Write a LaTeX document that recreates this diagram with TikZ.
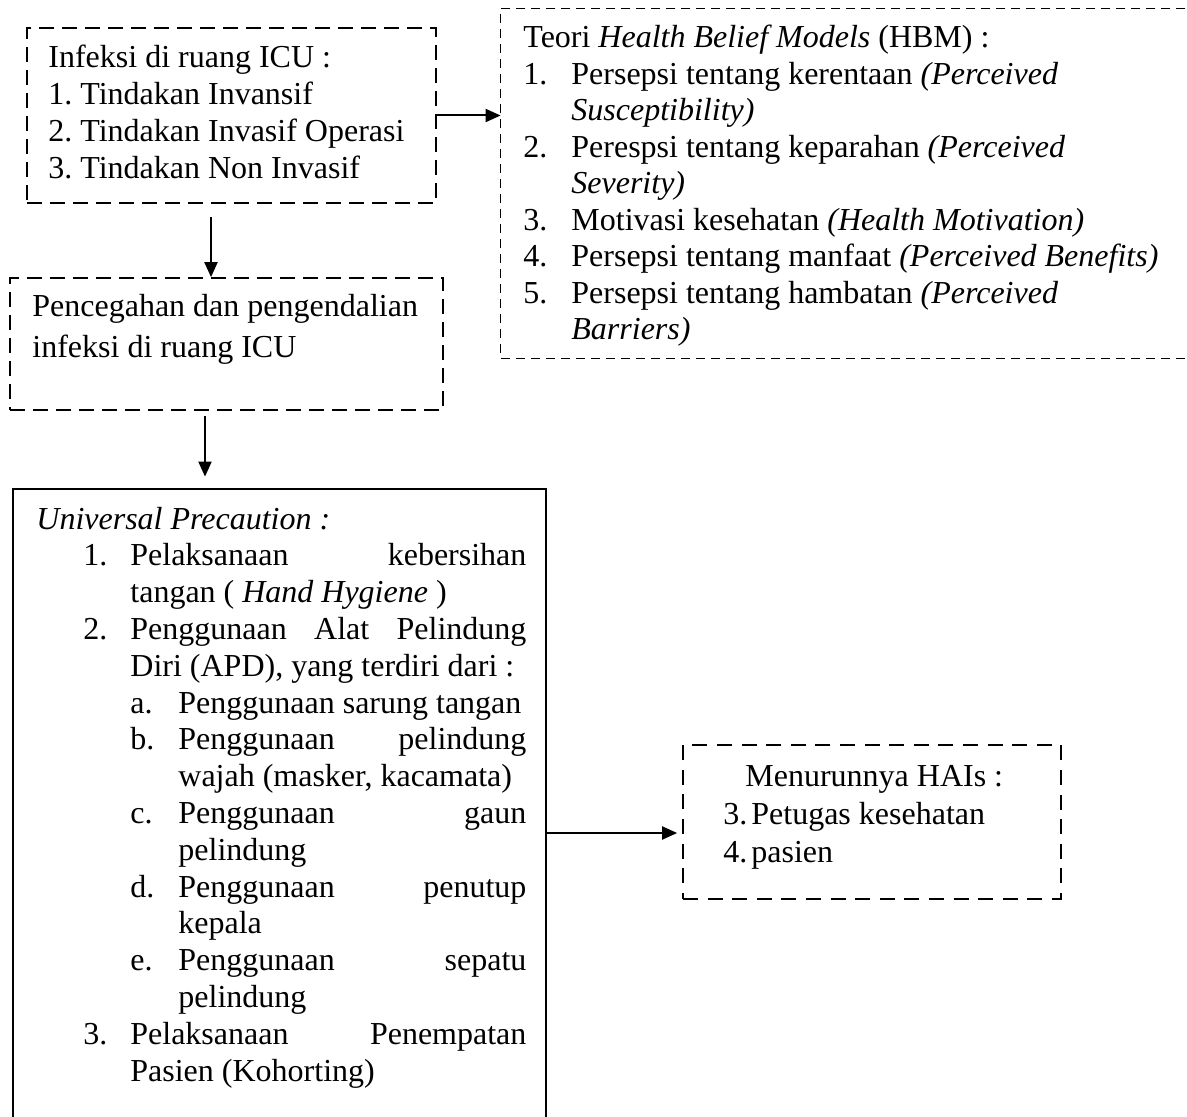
\documentclass[tikz,border=0pt]{standalone}
\usepackage{fontspec}
\setmainfont{Liberation Serif}
\usetikzlibrary{arrows.meta,fit}
\frenchspacing
\begin{document}
\begin{tikzpicture}[x=0.5pt,y=-0.5pt,
  dbox/.style={draw, line width=0.85pt, dash pattern=on 7.5pt off 4pt, inner sep=0pt},
  haibox/.style={draw, line width=0.85pt, dash pattern=on 7.5pt off 4.8pt, inner sep=0pt},
  hbmline/.style={line width=0.85pt, dash pattern=on 4.5pt off 3pt},
  solidline/.style={line width=1pt},
  frame/.style={inner sep=0pt},
  txt/.style={anchor=base west, inner sep=0pt, font=\fontsize{16}{18.35}\selectfont},
  arr/.style={line width=1pt, -{Triangle[length=7.5pt,width=6.5pt]}}]
\useasboundingbox (0,0) rectangle (1187,1117);
\fill[white] (0,0) rectangle (1187,1117);
\clip (0,0) rectangle (1187,1117);

% box 1
\node[dbox, fit={(27,28) (436,203)}] (b1) {};
\node[txt] (b1t) at (48,68) {\vtop{%
  \hbox{Infeksi di ruang ICU :}
  \hbox{1. Tindakan Invansif}
  \hbox{2. Tindakan Invasif Operasi}
  \hbox{3. Tindakan Non Invasif}}};

% box 2
\node[dbox, fit={(10,278) (443,410)}] (b2) {};
\node[txt, font=\fontsize{16}{20.5}\selectfont] (b2t) at (32,317) {\vtop{%
  \hbox{Pencegahan dan pengendalian}
  \hbox{infeksi di ruang ICU}}};

% HBM box (open on the right)
\node[frame, fit={(501,9) (1200,358)}] (hbm) {};
\draw[hbmline] (hbm.north east) -- (hbm.north west) -- (hbm.south west) -- (hbm.south east);
\node[txt, font=\fontsize{16}{18.25}\selectfont] (hbmt) at (523,48) {\vtop{%
  \hbox{Teori \textit{Health Belief Models} (HBM) :}
  \hbox{\makebox[24pt][l]{1.}Persepsi tentang kerentaan \textit{(Perceived}}
  \hbox{\hspace*{24pt}\textit{Susceptibility)}}
  \hbox{\makebox[24pt][l]{2.}Perespsi tentang keparahan \textit{(Perceived}}
  \hbox{\hspace*{24pt}\textit{Severity)}}
  \hbox{\makebox[24pt][l]{3.}Motivasi kesehatan \textit{(Health Motivation)}}
  \hbox{\makebox[24pt][l]{4.}Persepsi tentang manfaat \textit{(Perceived Benefits)}}
  \hbox{\makebox[24pt][l]{5.}Persepsi tentang hambatan \textit{(Perceived}}
  \hbox{\hspace*{24pt}\textit{Barriers)}}}};

% box 3 (solid, open at the bottom)
\node[frame, fit={(13,489) (546,1177)}] (b3) {};
\draw[solidline] (b3.south west) -- (b3.north west) -- (b3.north east) -- (b3.south east);
\node[txt, font=\fontsize{16}{18.4}\selectfont] (b3t) at (36,529) {\vtop{%
  \hbox{\textit{Universal Precaution :}}
  \hbox{\hspace*{23.5pt}\makebox[23.5pt][l]{1.}\makebox[198pt][s]{Pelaksanaan kebersihan}}
  \hbox{\hspace*{47pt}tangan ( \textit{Hand Hygiene} )}
  \hbox{\hspace*{23.5pt}\makebox[23.5pt][l]{2.}\makebox[198pt][s]{Penggunaan Alat Pelindung}}
  \hbox{\hspace*{47pt}Diri (APD), yang terdiri dari :}
  \hbox{\hspace*{47pt}\makebox[24pt][l]{a.}Penggunaan sarung tangan}
  \hbox{\hspace*{47pt}\makebox[24pt][l]{b.}\makebox[174pt][s]{Penggunaan pelindung}}
  \hbox{\hspace*{71pt}wajah (masker, kacamata)}
  \hbox{\hspace*{47pt}\makebox[24pt][l]{c.}\makebox[174pt][s]{Penggunaan gaun}}
  \hbox{\hspace*{71pt}pelindung}
  \hbox{\hspace*{47pt}\makebox[24pt][l]{d.}\makebox[174pt][s]{Penggunaan penutup}}
  \hbox{\hspace*{71pt}kepala}
  \hbox{\hspace*{47pt}\makebox[24pt][l]{e.}\makebox[174pt][s]{Penggunaan sepatu}}
  \hbox{\hspace*{71pt}pelindung}
  \hbox{\hspace*{23.5pt}\makebox[23.5pt][l]{3.}\makebox[198pt][s]{Pelaksanaan Penempatan}}
  \hbox{\hspace*{47pt}Pasien (Kohorting)}}};

% HAIs box
\node[haibox, fit={(683,745) (1061,899)}] (hai) {};
\node[txt, font=\fontsize{16}{19}\selectfont] (hait) at (723,786) {\vtop{%
  \hbox{\hspace*{11pt}Menurunnya HAIs :}
  \hbox{\makebox[14pt][l]{3.}Petugas kesehatan}
  \hbox{\makebox[14pt][l]{4.}pasien}}};

% connectors
\draw[arr] (b1.east) -- (b1.east -| hbm.west);
\coordinate (a1) at (211,217);
\draw[arr] (a1) -- (a1 |- b2.north);
\coordinate (a2) at (205,416);
\draw[arr, shorten >=6pt] (a2) -- (a2 |- b3.north);
\draw[arr, shorten >=2.5pt] (b3.east) -- (b3.east -| hai.west);
\end{tikzpicture}
\end{document}
